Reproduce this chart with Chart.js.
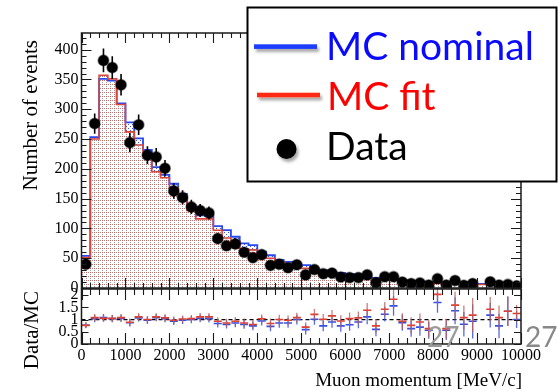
<!DOCTYPE html>
<html>
<head>
<meta charset="utf-8">
<script src="https://cdn.jsdelivr.net/npm/chart.js@4.4.0/dist/chart.umd.min.js"></script>
<style>
  html, body { margin: 0; padding: 0; background: #fff; }
  #wrap { position: relative; width: 558px; height: 391px; overflow: hidden; }
  .pane { position: absolute; left: 0; top: 0; width: 558px; height: 391px; }
  svg { position: absolute; left: 0; top: 0; }
  .ax { font-family: "Liberation Serif", "Times New Roman", serif; font-size: 19px; fill: #000; }
  .ay { font-family: "Liberation Serif", "Times New Roman", serif; font-size: 21px; fill: #000; }
  .lg { font-family: Lato, "Open Sans", sans-serif; font-size: 39px; }
  .pg { font-family: Lato, "Open Sans", sans-serif; font-size: 28px; }
</style>
</head>
<body>
<div id="wrap">
  <div class="pane"><canvas id="ratio"></canvas></div>
  <div class="pane"><canvas id="main"></canvas></div>
  <svg width="558" height="391">
    <defs>
      <filter id="sh" x="-30%" y="-150%" width="170%" height="500%">
        <feDropShadow dx="2" dy="3" stdDeviation="1.6" flood-color="#000" flood-opacity="0.35"/>
      </filter>
    </defs>
    <text class="ay" transform="translate(37,40) rotate(-90)" text-anchor="end">Number of events</text>
    <text class="ay" transform="translate(38,291) rotate(-90)" text-anchor="end">Data/MC</text>
    <text class="ax" x="522" y="386" text-anchor="end">Muon momentum [MeV/c]</text>

    <rect x="247.5" y="7.5" width="309" height="174" fill="#fff" stroke="#000" stroke-width="2"/>
    <rect x="254" y="44.3" width="63" height="4.6" fill="#1a3cff" filter="url(#sh)"/>
    <rect x="257" y="92.7" width="63" height="4.6" fill="#ff2a12" filter="url(#sh)"/>
    <circle cx="286.5" cy="149" r="10" fill="#000" filter="url(#sh)"/>
    <text class="lg" x="326" y="60" fill="#0a0aff">MC nominal</text>
    <text class="lg" x="327" y="110" fill="#ff0000">MC fit</text>
    <text class="lg" x="326" y="160" fill="#000">Data</text>

    <text class="pg" x="427" y="347" fill="#9a9a9a">27</text>
    <text class="pg" x="525" y="347" fill="#888">27</text>
  </svg>
</div>
<script>
// momentum binning, 200 MeV/c bins
const binEdges = [0, 200, 400, 600, 800, 1000, 1200, 1400, 1600, 1800,
  2000, 2200, 2400, 2600, 2800, 3000, 3200, 3400, 3600, 3800,
  4000, 4200, 4400, 4600, 4800, 5000, 5200, 5400, 5600, 5800,
  6000, 6200, 6400, 6600, 6800, 7000, 7200, 7400, 7600, 7800,
  8000, 8200, 8400, 8600, 8800, 9000, 9200, 9400, 9600, 9800, 10000];
const binCenters = [100, 300, 500, 700, 900, 1100, 1300, 1500, 1700, 1900,
  2100, 2300, 2500, 2700, 2900, 3100, 3300, 3500, 3700, 3900,
  4100, 4300, 4500, 4700, 4900, 5100, 5300, 5500, 5700, 5900,
  6100, 6300, 6500, 6700, 6900, 7100, 7300, 7500, 7700, 7900,
  8100, 8300, 8500, 8700, 8900, 9100, 9300, 9500, 9700, 9900];

// events per bin
const mcNominal = [54, 253, 351, 348, 310, 278, 251, 232, 203, 190,
  175, 158, 139, 122, 122, 104, 97, 86, 75, 72,
  61, 55, 47, 44, 40, 38.5, 33, 30, 27, 25.5,
  23.5, 20, 18, 17, 15.5, 14.5, 13, 12, 11, 10,
  9.5, 9, 8.5, 8, 7.5, 7, 6.5, 6, 5.5, 5];
const mcFit = [51, 250, 357, 351, 308, 262, 240, 225, 195, 185,
  168, 149, 130, 116, 116, 97, 84, 79, 66, 64,
  55, 50, 44, 41, 38.5, 33, 30, 27, 24.5, 23,
  20, 18, 16, 15, 14, 13, 12, 10.5, 10, 9,
  8, 7.5, 7.5, 7, 6.5, 6, 6, 5.5, 5, 4.5];
const dataCounts = [40, 276, 382, 370, 341, 244, 274, 223, 220, 201,
  163, 152, 136, 130, 126, 83, 71, 74, 60, 51,
  56, 38, 40, 34, 39, 22, 31, 24, 25, 18.5,
  17.5, 17.5, 22, 9, 19, 19, 10, 7.5, 8.5, 5,
  15.6, 5, 12.5, 4.5, 7.5, null, 10.5, 5, 6, 3.5];
const dataErr = [6, 17, 20, 19, 18, 16, 17, 15, 15, 14,
  13, 12, 12, 11, 11, 9, 8, 9, 8, 7,
  7, 6, 6, 6, 6, 5, 6, 5, 5, 4,
  4, 4, 5, 3, 4, 4, 3, 3, 3, 2,
  4, 2, 3, 2, 3, null, 3, 2, 2, 2];

// data / MC
const ratioFit = [0.76, 1.08, 1.05, 1.05, 1.08, 0.89, 1.11, 1.0, 1.11, 1.07,
  0.97, 1.02, 1.04, 1.11, 1.11, 0.93, 0.86, 0.93, 0.86, 0.8,
  1.03, 0.84, 1.0, 0.97, 1.08, 0.69, 1.21, 1.01, 1.15, 0.94,
  1.04, 1.07, 1.38, 0.74, 1.42, 1.83, 0.93, 0.76, 0.9, 0.63,
  2.03, 0.63, 1.59, 1.08, 1.18, null, 1.42, 1.08, 1.34, 1.25];
const ratioNominal = [0.77, 1.04, 1.08, 1.04, 1.05, 0.87, 1.07, 0.97, 1.08, 1.04,
  0.93, 0.97, 1.0, 1.05, 1.04, 0.84, 0.8, 0.86, 0.8, 0.74,
  0.94, 0.72, 0.86, 0.86, 1.0, 0.59, 1.01, 0.74, 0.9, 0.74,
  0.79, 0.9, 1.11, 0.6, 1.22, 1.56, 0.87, 0.63, 0.69, 0.56,
  1.7, 0.56, 1.36, 0.81, 0.93, null, 1.18, 0.74, 1.34, 1.0];
const ratioErr = [0.12, 0.15, 0.15, 0.15, 0.15, 0.15, 0.15, 0.15, 0.15, 0.15,
  0.15, 0.15, 0.15, 0.16, 0.16, 0.16, 0.17, 0.17, 0.18, 0.18,
  0.18, 0.2, 0.2, 0.2, 0.2, 0.2, 0.22, 0.22, 0.24, 0.24,
  0.25, 0.26, 0.3, 0.28, 0.3, 0.4, 0.33, 0.33, 0.35, 0.35,
  0.42, 0.4, 0.55, 0.5, 0.7, null, 0.5, 0.5, 0.6, 0.35];

const countTicks = [0, 50, 100, 150, 200, 250, 300, 350, 400];
const ratioTicks = [0, 0.5, 1, 1.5, 2];
const momentumTicks = [0, 1000, 2000, 3000, 4000, 5000, 6000, 7000, 8000, 9000, 10000];

const serif = '"Liberation Serif", "Times New Roman", serif';
Chart.defaults.font.family = serif;
Chart.defaults.color = '#000';

// histogram outline: one point per lower bin edge, plus the closing edge
function steps(vals) {
  const pts = vals.map((v, i) => ({ x: binEdges[i], y: v }));
  pts.push({ x: binEdges[binEdges.length - 1], y: vals[vals.length - 1] });
  return pts;
}
function points(vals, errs) {
  return vals.map((v, i) => ({ x: binCenters[i], y: v, err: errs[i] }));
}

function dotPattern(ctx, size, dots) {
  const c = document.createElement('canvas');
  c.width = c.height = size;
  const g = c.getContext('2d');
  g.fillStyle = '#fff';
  g.fillRect(0, 0, size, size);
  dots.forEach(([px, py, col]) => { g.fillStyle = col; g.fillRect(px, py, 1, 1); });
  return ctx.createPattern(c, 'repeat');
}

// ROOT style frame with inward ticks on all four sides
const frameTicks = {
  id: 'frameTicks',
  afterDatasetsDraw(chart, args, o) {
    const { ctx, chartArea: a, scales: { x, y } } = chart;
    ctx.save();
    ctx.strokeStyle = '#1a1a1a';
    ctx.lineWidth = 1.1;
    ctx.beginPath();
    const nx = Math.round((x.max - x.min) / o.xMinor);
    for (let i = 0; i <= nx; i++) {
      const v = x.min + i * o.xMinor;
      const px = Math.round(x.getPixelForValue(v)) + 0.5;
      const len = (v % o.xMajor === 0) ? o.xMajorLen : o.xMinorLen;
      ctx.moveTo(px, a.bottom); ctx.lineTo(px, a.bottom - len);
      ctx.moveTo(px, a.top); ctx.lineTo(px, a.top + len);
    }
    const ny = Math.floor((y.max - y.min) / o.yMinor + 1e-6);
    for (let i = 0; i <= ny; i++) {
      const v = y.min + i * o.yMinor;
      const py = Math.round(y.getPixelForValue(v)) + 0.5;
      const major = Math.abs(v / o.yMajor - Math.round(v / o.yMajor)) < 1e-6;
      const len = major ? o.yMajorLen : o.yMinorLen;
      ctx.moveTo(a.left, py); ctx.lineTo(a.left + len, py);
      ctx.moveTo(a.right, py); ctx.lineTo(a.right - len, py);
    }
    ctx.stroke();
    ctx.lineWidth = 1.5;
    ctx.strokeRect(a.left, a.top, a.right - a.left, a.bottom - a.top);
    ctx.restore();
  }
};

// vertical error bars for datasets that carry an err per point
const errorBars = {
  id: 'errorBars',
  afterDatasetDraw(chart, args) {
    const ds = chart.data.datasets[args.index];
    if (!ds.errColor) return;
    const { ctx, scales: { y } } = chart;
    ctx.save();
    ctx.strokeStyle = ds.errColor;
    ctx.lineWidth = ds.errWidth;
    ctx.beginPath();
    args.meta.data.forEach((el, i) => {
      const p = ds.data[i];
      if (p.y == null || p.err == null) return;
      ctx.moveTo(el.x, y.getPixelForValue(p.y - p.err));
      ctx.lineTo(el.x, y.getPixelForValue(p.y + p.err));
    });
    ctx.stroke();
    ctx.restore();
  }
};

const mainCanvas = document.getElementById('main');
const mctx = mainCanvas.getContext('2d');
const fitFill = dotPattern(mctx, 4, [[0, 0, '#8e8e8e'], [2, 2, '#9a9a9a'], [2, 0, '#e0524a']]);
const nominalFill = dotPattern(mctx, 4, [[0, 0, '#3456e8'], [2, 2, '#3456e8']]);

const axisFont = { size: 16 };
const plain = v => String(v);

new Chart(mainCanvas, {
  type: 'scatter',
  data: {
    datasets: [
      {
        label: 'MC nominal', type: 'line', data: steps(mcNominal), stepped: 'before',
        borderColor: '#2848f0', borderWidth: 1.8, backgroundColor: nominalFill, fill: 'origin',
        pointRadius: 0, order: 2
      },
      {
        label: 'MC fit', type: 'line', data: steps(mcFit), stepped: 'before',
        borderColor: '#d8463c', borderWidth: 1.6, backgroundColor: fitFill, fill: 'origin',
        pointRadius: 0, order: 1
      },
      {
        label: 'Data', data: points(dataCounts, dataErr),
        pointRadius: 5.3, pointBackgroundColor: '#000', pointBorderColor: 'rgba(0,0,0,0.4)', pointBorderWidth: 1.6,
        errColor: '#000', errWidth: 1.6, order: 0
      }
    ]
  },
  options: {
    responsive: true, maintainAspectRatio: false, animation: false, events: [],
    layout: { padding: { left: 0, right: 37, top: 33, bottom: 103 } },
    plugins: {
      legend: { display: false }, tooltip: { enabled: false },
      filler: { drawTime: 'beforeDatasetsDraw' },
      frameTicks: { xMinor: 200, xMajor: 1000, xMinorLen: 5, xMajorLen: 10, yMinor: 10, yMajor: 50, yMinorLen: 5, yMajorLen: 10 }
    },
    scales: {
      x: {
        type: 'linear', min: 0, max: 10000,
        grid: { display: false, drawTicks: false }, border: { display: false },
        ticks: { display: false },
        afterFit: s => { s.height = 0; }
      },
      y: {
        min: 0, max: 428,
        grid: { display: false, drawTicks: false }, border: { display: false },
        afterBuildTicks: s => { s.ticks = countTicks.map(v => ({ value: v })); },
        ticks: { padding: 3, font: axisFont, callback: plain, autoSkip: false },
        afterFit: s => { s.width = 81.5; }
      }
    }
  },
  plugins: [frameTicks, errorBars]
});

new Chart(document.getElementById('ratio'), {
  type: 'scatter',
  data: {
    datasets: [
      {
        label: 'unity', type: 'line', data: [{ x: 0, y: 1 }, { x: 10000, y: 1 }],
        borderColor: '#000', borderWidth: 1.3, borderDash: [4, 3], pointRadius: 0, order: 3
      },
      {
        label: 'MC nominal', data: points(ratioNominal, ratioErr),
        pointStyle: 'line', pointRadius: 4, pointBorderColor: '#2f4fe6', pointBorderWidth: 1.6,
        errColor: 'rgba(60,80,220,0.85)', errWidth: 1.3, order: 2
      },
      {
        label: 'MC fit', data: points(ratioFit, ratioErr),
        pointStyle: 'line', pointRadius: 4, pointBorderColor: '#e63a2a', pointBorderWidth: 1.6,
        errColor: 'rgba(185,95,90,0.8)', errWidth: 1.3, order: 1
      }
    ]
  },
  options: {
    responsive: true, maintainAspectRatio: false, animation: false, events: [],
    layout: { padding: { left: 0, right: 37, top: 289, bottom: 0 } },
    plugins: {
      legend: { display: false }, tooltip: { enabled: false },
      frameTicks: { xMinor: 200, xMajor: 1000, xMinorLen: 6, xMajorLen: 11, yMinor: 0.5, yMajor: 0.5, yMinorLen: 7, yMajorLen: 7 }
    },
    scales: {
      x: {
        type: 'linear', min: 0, max: 10000,
        grid: { display: false, drawTicks: false }, border: { display: false },
        afterBuildTicks: s => { s.ticks = momentumTicks.map(v => ({ value: v })); },
        ticks: { padding: 2, font: axisFont, maxRotation: 0, autoSkip: false, callback: plain },
        afterFit: s => { s.height = 47; }
      },
      y: {
        min: 0, max: 2.25,
        grid: { display: false, drawTicks: false }, border: { display: false },
        afterBuildTicks: s => { s.ticks = ratioTicks.map(v => ({ value: v })); },
        ticks: { padding: 3, font: axisFont, callback: plain, autoSkip: false },
        afterFit: s => { s.width = 81.5; }
      }
    }
  },
  plugins: [frameTicks, errorBars]
});
</script>
</body>
</html>
